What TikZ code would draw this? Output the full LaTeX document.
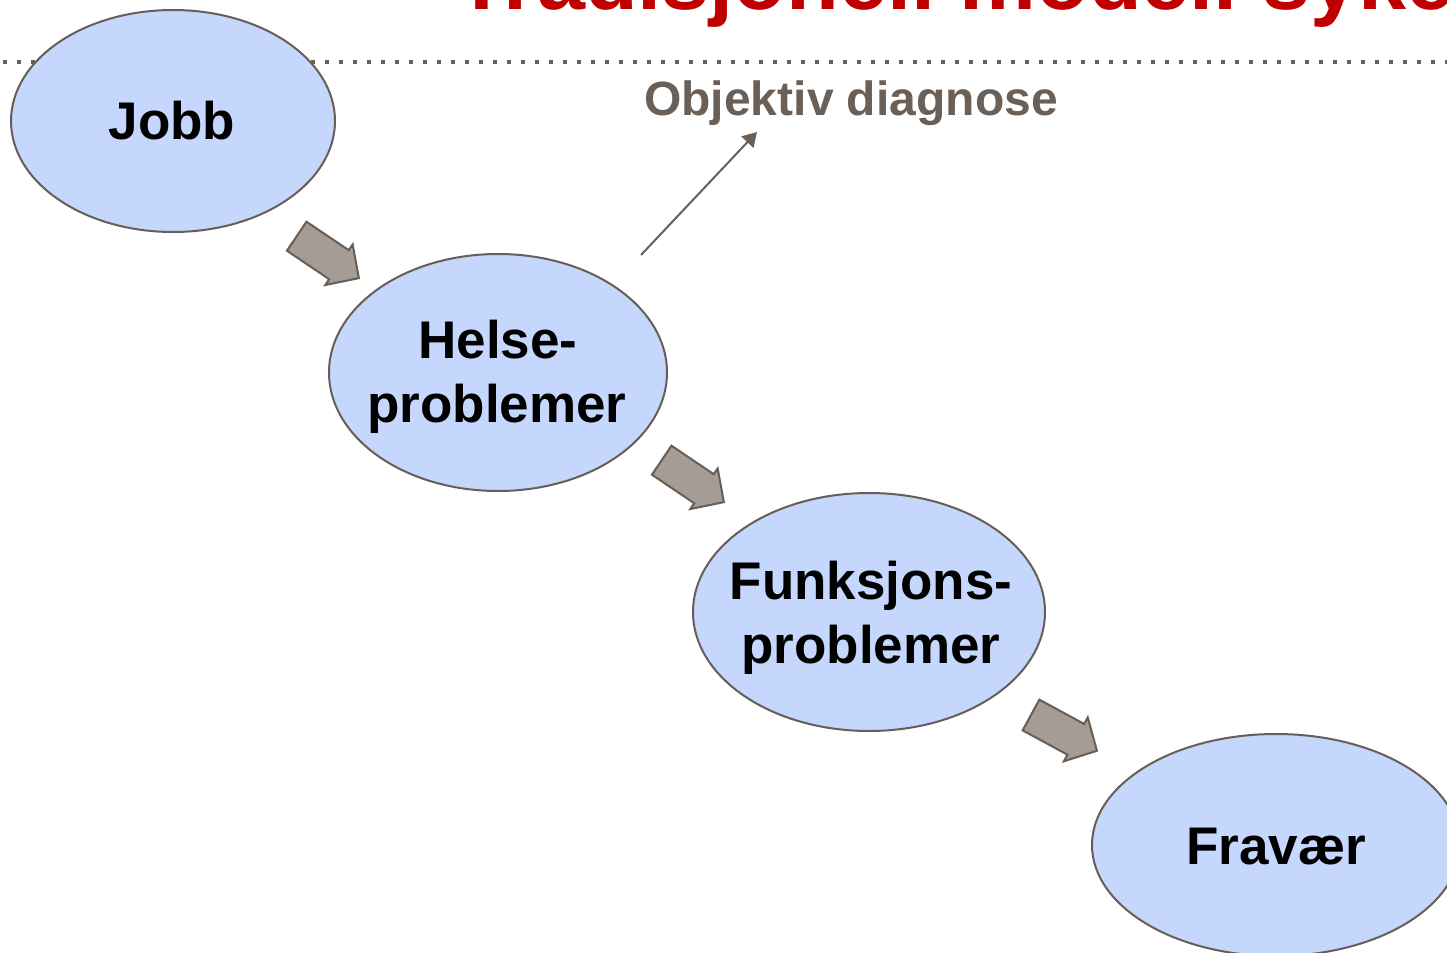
\documentclass[tikz,border=0pt]{standalone}
\usepackage{fontspec}
\setmainfont{Liberation Sans}
\usetikzlibrary{arrows.meta,shapes.geometric}
\definecolor{efill}{HTML}{C5D7FD}
\definecolor{estroke}{HTML}{675E55}
\definecolor{bfill}{HTML}{A59D95}
\definecolor{lgray}{HTML}{6B6057}
\definecolor{tred}{HTML}{C00000}
\tikzset{
  oval/.style={ellipse, draw=estroke, fill=efill, line width=1pt, inner sep=0pt},
  lbl/.style={anchor=base, inner sep=0pt, font=\fontsize{26.5}{32}\selectfont\bfseries, text=black},
  barrow/.style={draw=estroke, fill=bfill, line width=1pt, line join=miter},
  thinarrow/.style={draw=lgray, line width=1pt, -{Triangle[length=7pt,width=8.2pt]}},
  dotline/.style={draw=lgray, line width=2pt, dash pattern=on 2pt off 5pt}
}
\begin{document}
\begin{tikzpicture}[x=0.5pt,y=-0.5pt]
\useasboundingbox (0,0) rectangle (1447,953);
\clip (0,0) rectangle (1447,953);
\fill[white] (0,0) rectangle (1447,953);

% title (cut off at top)
\node[anchor=base west, inner sep=0pt, text=tred,
      font=\fontsize{43.2}{48}\selectfont\bfseries] (title) at (455,9.5)
      {Tradisjonell modell sykefravær};

% dotted rule
\coordinate (ruleL) at (3,62);
\coordinate (ruleR) at (1447,62);
\draw[dotline] (ruleL) -- (ruleR);

% ellipses
\node[oval, minimum width=162pt, minimum height=111pt] (jobb) at (173,121) {};
\node[oval, minimum width=169pt, minimum height=118.5pt] (helse) at (498,372.5) {};
\node[oval, minimum width=176pt, minimum height=119pt] (funk) at (869,612) {};
\node[oval, minimum width=184pt, minimum height=111pt] (frav) at (1276,845) {};

% texts
\node[lbl] (tjobb) at (172,139) {Jobb};
\node[lbl] (thelseA) at (498,358) {Helse-};
\node[lbl] (thelseB) at (497,422) {problemer};
\node[lbl] (tfunkA) at (871,599) {Funksjons-};
\node[lbl] (tfunkB) at (871,663) {problemer};
\node[lbl] (tfrav) at (1276,864) {Fravær};

% block arrows
\draw[barrow, shift={(296.7,236.2)}, rotate=-34]
  (0,-17.5) -- (51,-17.5) -- (51,-24.5) -- (75,0) -- (51,24.5) -- (51,17.5) -- (0,17.5) -- cycle;
\draw[barrow, shift={(661.7,460.2)}, rotate=-34]
  (0,-17.5) -- (51,-17.5) -- (51,-24.5) -- (75,0) -- (51,24.5) -- (51,17.5) -- (0,17.5) -- cycle;
\draw[barrow, shift={(1031,715)}, rotate=-28.5]
  (0,-17.5) -- (51,-17.5) -- (51,-25) -- (75,0) -- (51,25) -- (51,17.5) -- (0,17.5) -- cycle;

% objective diagnosis
\node[anchor=base, inner sep=0pt, text=lgray,
      font=\fontsize{24}{28}\selectfont\bfseries] (diag) at (851,115) {Objektiv diagnose};
\coordinate (dstart) at (641,255);
\coordinate (dend) at (757,132);
\draw[thinarrow] (dstart) -- (dend);
\end{tikzpicture}
\end{document}
